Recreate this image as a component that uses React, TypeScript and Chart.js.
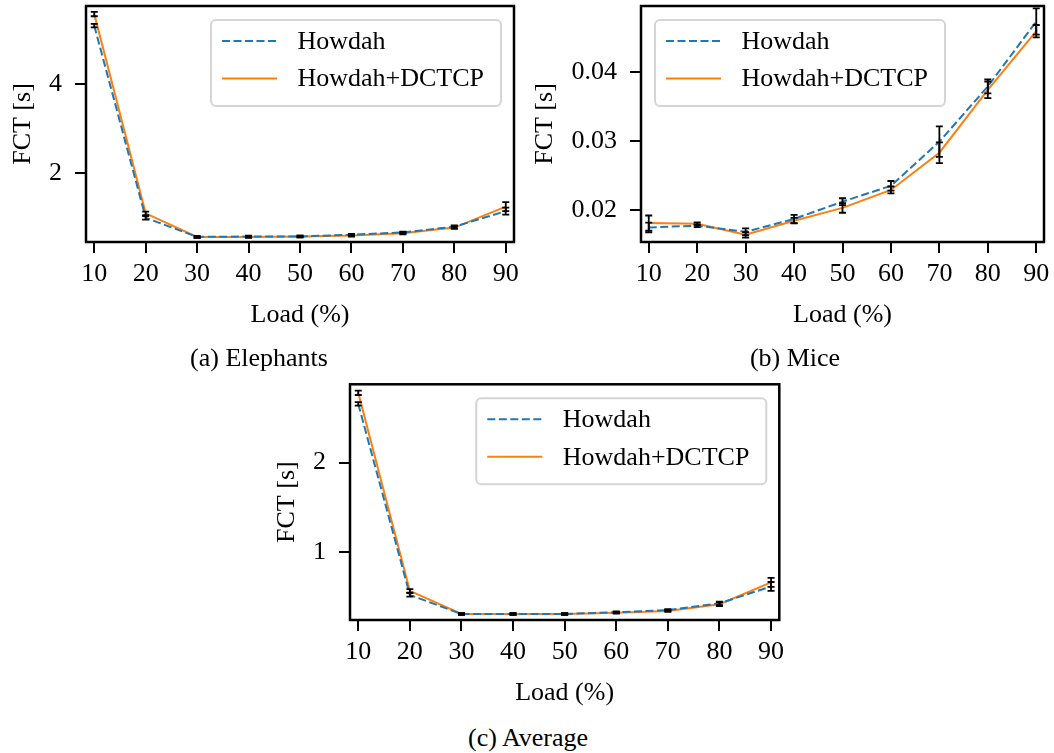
import React, { useEffect, useRef } from 'react';
import { Chart, registerables } from 'chart.js';

Chart.register(...registerables);

const FONT = "'Liberation Serif', 'Times New Roman', 'DejaVu Serif', serif";
const FS = 26;
const BLUE = '#1f77b4';
const ORANGE = '#ff7f0e';

// ---- data ----
const loads = [10, 20, 30, 40, 50, 60, 70, 80, 90];
const xTickLabels = ['10', '20', '30', '40', '50', '60', '70', '80', '90'];
const seriesNames = ['Howdah', 'Howdah+DCTCP'];

// (a) Elephants
const eleHowdah = [5.32, 1.0, 0.57, 0.58, 0.58, 0.62, 0.67, 0.8, 1.15];
const eleHowdahErr = [0.04, 0.04, 0.02, 0.02, 0.02, 0.02, 0.02, 0.03, 0.08];
const eleDctcp = [5.58, 1.1, 0.57, 0.57, 0.58, 0.6, 0.65, 0.78, 1.25];
const eleDctcpErr = [0.05, 0.04, 0.02, 0.02, 0.02, 0.02, 0.02, 0.03, 0.1];
const eleYTicks = [2, 4];
const eleYTickLabels = ['2', '4'];

// (b) Mice
const miceHowdah = [0.01747, 0.01772, 0.01684, 0.0187, 0.0212, 0.0235, 0.0299, 0.0379, 0.0473];
const miceHowdahErr = [0.0007, 0.0002, 0.0005, 0.0006, 0.0005, 0.0007, 0.0022, 0.001, 0.0019];
const miceDctcp = [0.0181, 0.018, 0.0164, 0.01845, 0.0203, 0.0229, 0.0283, 0.0374, 0.0459];
const miceDctcpErr = [0.0011, 0.0002, 0.0004, 0.0004, 0.0007, 0.0005, 0.0015, 0.0012, 0.0009];
const miceYTicks = [0.02, 0.03, 0.04];
const miceYTickLabels = ['0.02', '0.03', '0.04'];

// (c) Average
const avgHowdah = [2.66, 0.515, 0.3, 0.3, 0.3, 0.32, 0.345, 0.42, 0.61];
const avgHowdahErr = [0.02, 0.02, 0.01, 0.01, 0.01, 0.01, 0.01, 0.02, 0.05];
const avgDctcp = [2.785, 0.56, 0.3, 0.3, 0.3, 0.315, 0.335, 0.41, 0.655];
const avgDctcpErr = [0.025, 0.02, 0.01, 0.01, 0.01, 0.01, 0.01, 0.02, 0.05];
const avgYTicks = [1, 2];
const avgYTickLabels = ['1', '2'];

// ---- plugins ----
const frameAndErrors = {
  id: 'frameAndErrors',
  afterDatasetsDraw(chart: any) {
    const ctx = chart.ctx;
    const xs = chart.scales.x;
    const ys = chart.scales.y;
    ctx.save();
    ctx.strokeStyle = '#000';
    ctx.lineWidth = 1.8;
    chart.data.datasets.forEach((ds: any) => {
      const errs: number[] = ds.errors || [];
      ds.data.forEach((p: any, i: number) => {
        const e = errs[i];
        if (e == null) return;
        const x = xs.getPixelForValue(p.x);
        const y1 = ys.getPixelForValue(p.y - e);
        const y2 = ys.getPixelForValue(p.y + e);
        ctx.beginPath();
        ctx.moveTo(x, y1);
        ctx.lineTo(x, y2);
        ctx.moveTo(x - 3.5, y1);
        ctx.lineTo(x + 3.5, y1);
        ctx.moveTo(x - 3.5, y2);
        ctx.lineTo(x + 3.5, y2);
        ctx.stroke();
      });
    });
    ctx.restore();
  },
  afterDraw(chart: any) {
    const ctx = chart.ctx;
    const a = chart.chartArea;
    ctx.save();
    // legend
    const opts = chart.options.plugins.boxLegend || {};
    const w = 290;
    const h = 86;
    const bx = opts.side === 'left' ? a.left + 14 : a.right - 13 - w;
    const by = a.top + 14;
    ctx.beginPath();
    const r = 5;
    ctx.moveTo(bx + r, by);
    ctx.lineTo(bx + w - r, by);
    ctx.arcTo(bx + w, by, bx + w, by + r, r);
    ctx.lineTo(bx + w, by + h - r);
    ctx.arcTo(bx + w, by + h, bx + w - r, by + h, r);
    ctx.lineTo(bx + r, by + h);
    ctx.arcTo(bx, by + h, bx, by + h - r, r);
    ctx.lineTo(bx, by + r);
    ctx.arcTo(bx, by, bx + r, by, r);
    ctx.closePath();
    ctx.fillStyle = 'rgba(255,255,255,0.85)';
    ctx.fill();
    ctx.strokeStyle = '#d5d5d5';
    ctx.lineWidth = 2;
    ctx.stroke();
    const rows = [by + 21, by + 58.5];
    chart.data.datasets.forEach((ds: any, i: number) => {
      const y = rows[i];
      ctx.beginPath();
      ctx.strokeStyle = ds.borderColor;
      ctx.lineWidth = 2;
      ctx.setLineDash(ds.borderDash || []);
      ctx.moveTo(bx + 11, y);
      ctx.lineTo(bx + 66, y);
      ctx.stroke();
      ctx.setLineDash([]);
      ctx.fillStyle = '#000';
      ctx.font = `${FS}px ${FONT}`;
      ctx.textBaseline = 'middle';
      ctx.textAlign = 'left';
      ctx.fillText(ds.label, bx + 86.5, y + 1);
    });
    // frame
    ctx.strokeStyle = '#000';
    ctx.lineWidth = 2.5;
    ctx.strokeRect(a.left, a.top, a.right - a.left, a.bottom - a.top);
    ctx.restore();
  },
};

type PanelProps = {
  left: number;
  top: number;
  width: number;
  area: { l: number; t: number; r: number; b: number };
  yMin: number;
  yMax: number;
  yTicks: number[];
  yTickLabels: string[];
  yTitleOffset: number;
  blue: number[];
  blueErr: number[];
  orange: number[];
  orangeErr: number[];
  legendSide: 'left' | 'right';
};

const X_H = 95;

function Panel(p: PanelProps) {
  const ref = useRef<HTMLCanvasElement | null>(null);
  const height = p.area.b - p.top + X_H;
  useEffect(() => {
    if (!ref.current) return;
    const tickFont = { family: FONT, size: FS };
    const chart = new Chart(ref.current, {
      type: 'line',
      data: {
        datasets: [
          {
            label: seriesNames[0],
            data: loads.map((x, i) => ({ x, y: p.blue[i] })),
            errors: p.blueErr,
            borderColor: BLUE,
            borderWidth: 2,
            borderDash: [8, 3.5],
            pointRadius: 0,
            fill: false,
            tension: 0,
          } as any,
          {
            label: seriesNames[1],
            data: loads.map((x, i) => ({ x, y: p.orange[i] })),
            errors: p.orangeErr,
            borderColor: ORANGE,
            borderWidth: 2,
            pointRadius: 0,
            fill: false,
            tension: 0,
          } as any,
        ],
      },
      options: {
        animation: false,
        responsive: false,
        maintainAspectRatio: false,
        layout: {
          padding: {
            left: 0,
            top: p.area.t - p.top,
            right: p.left + p.width - p.area.r,
            bottom: 0,
          },
        },
        plugins: {
          legend: { display: false },
          tooltip: { enabled: false },
          boxLegend: { side: p.legendSide },
        } as any,
        scales: {
          x: {
            type: 'linear',
            min: 8.4,
            max: 91.6,
            afterBuildTicks: (s: any) => {
              s.ticks = loads.map((v) => ({ value: v }));
            },
            afterFit: (s: any) => {
              s.height = X_H;
              s.paddingLeft = 0;
              s.paddingRight = 0;
            },
            grid: { drawOnChartArea: false, drawTicks: true, tickLength: 11, color: '#000', lineWidth: 2 },
            border: { display: false },
            ticks: {
              font: tickFont,
              color: '#000',
              padding: 6,
              maxRotation: 0,
              autoSkip: false,
              callback: (_v: any, i: number) => xTickLabels[i],
            },
            title: { display: true, text: 'Load (%)', font: tickFont, color: '#000', padding: { top: 0, bottom: 6.4 } },
          },
          y: {
            type: 'linear',
            min: p.yMin,
            max: p.yMax,
            afterBuildTicks: (s: any) => {
              s.ticks = p.yTicks.map((v) => ({ value: v }));
            },
            afterFit: (s: any) => {
              s.width = p.area.l - p.left;
              s.paddingTop = 0;
              s.paddingBottom = 0;
            },
            grid: { drawOnChartArea: false, drawTicks: true, tickLength: 11, color: '#000', lineWidth: 2 },
            border: { display: false },
            ticks: {
              font: tickFont,
              color: '#000',
              padding: 13,
              autoSkip: false,
              callback: (_v: any, i: number) => p.yTickLabels[i],
            },
            title: {
              display: true,
              text: 'FCT [s]',
              font: tickFont,
              color: '#000',
              padding: { top: p.yTitleOffset - FS * 0.6, bottom: 0 },
            },
          },
        },
      } as any,
      plugins: [frameAndErrors],
    });
    return () => chart.destroy();
  }, []);
  return (
    <canvas
      ref={ref}
      width={p.width}
      height={height}
      style={{ position: 'absolute', left: p.left, top: p.top, width: p.width, height }}
    />
  );
}

function Caption({ text, cx, cy }: { text: string; cx: number; cy: number }) {
  return (
    <div
      style={{
        position: 'absolute',
        left: cx - 200,
        top: cy - 15,
        width: 400,
        height: 30,
        lineHeight: '30px',
        textAlign: 'center',
        fontFamily: FONT,
        fontSize: FS,
        color: '#000',
        whiteSpace: 'nowrap',
      }}
    >
      {text}
    </div>
  );
}

export default function App() {
  return (
    <div style={{ position: 'absolute', left: 0, top: 0, width: 1054, height: 753, background: '#fff', overflow: 'hidden' }}>
      <Panel
        left={0}
        top={0}
        width={527}
        area={{ l: 86, t: 6, r: 514, b: 242 }}
        yMin={0.456}
        yMax={5.76}
        yTicks={eleYTicks}
        yTickLabels={eleYTickLabels}
        yTitleOffset={23}
        blue={eleHowdah}
        blueErr={eleHowdahErr}
        orange={eleDctcp}
        orangeErr={eleDctcpErr}
        legendSide="right"
      />
      <Panel
        left={527}
        top={0}
        width={527}
        area={{ l: 641, t: 6, r: 1044, b: 242 }}
        yMin={0.01536}
        yMax={0.04955}
        yTicks={miceYTicks}
        yTickLabels={miceYTickLabels}
        yTitleOffset={18}
        blue={miceHowdah}
        blueErr={miceHowdahErr}
        orange={miceDctcp}
        orangeErr={miceDctcpErr}
        legendSide="left"
      />
      <Panel
        left={263}
        top={370}
        width={527}
        area={{ l: 350, t: 384.3, r: 779.3, b: 620 }}
        yMin={0.233}
        yMax={2.88}
        yTicks={avgYTicks}
        yTickLabels={avgYTickLabels}
        yTitleOffset={24}
        blue={avgHowdah}
        blueErr={avgHowdahErr}
        orange={avgDctcp}
        orangeErr={avgDctcpErr}
        legendSide="right"
      />
      <Caption text="(a) Elephants" cx={259} cy={358} />
      <Caption text="(b) Mice" cx={795} cy={358} />
      <Caption text="(c) Average" cx={528} cy={738} />
    </div>
  );
}
